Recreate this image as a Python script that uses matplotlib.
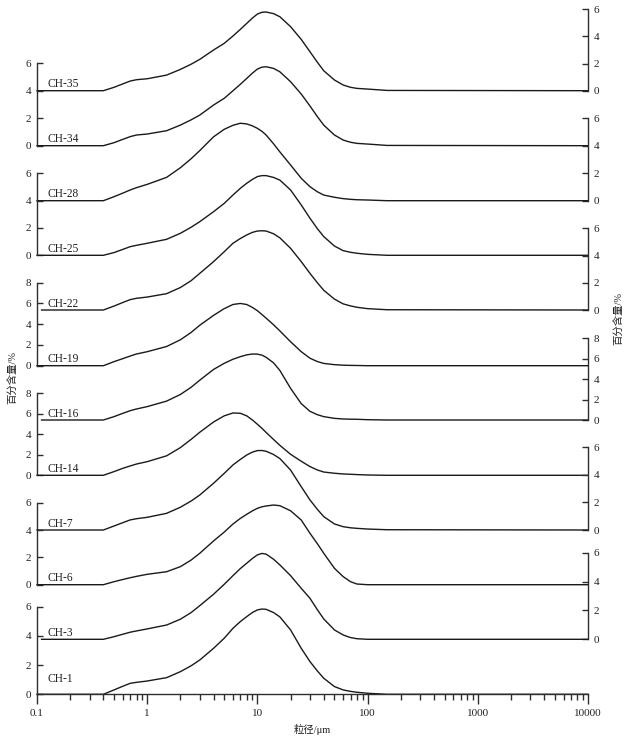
import matplotlib
matplotlib.use("Agg")
import matplotlib.pyplot as plt
from matplotlib.ticker import FixedLocator, FixedFormatter, NullFormatter

plt.rcParams['font.family'] = ['Liberation Serif', 'Noto Sans CJK SC']

# ---------------- data (percent content vs grain size) ----------------
grain_um = [0.4, 0.5, 0.6, 0.7, 0.8, 1, 1.5, 2, 2.5, 3, 4, 5, 6, 7, 8, 9, 10,
            11, 12, 14, 16, 20, 25, 30, 35, 40, 50, 60, 70, 80, 100, 150]

ch35 = [0, 0.25, 0.5, 0.71, 0.81, 0.88, 1.15, 1.57, 1.95, 2.31, 3.0, 3.49, 4.03, 4.52, 4.96, 5.35, 5.65,
        5.78, 5.8, 5.68, 5.45, 4.72, 3.78, 2.87, 2.1, 1.47, 0.79, 0.42, 0.25, 0.17, 0.12, 0.02]
ch34 = [0, 0.22, 0.46, 0.66, 0.78, 0.85, 1.09, 1.5, 1.88, 2.23, 2.96, 3.45, 4.0, 4.47, 4.9, 5.28, 5.58,
        5.72, 5.75, 5.63, 5.38, 4.66, 3.76, 2.89, 2.12, 1.5, 0.78, 0.41, 0.25, 0.17, 0.12, 0.02]
ch28 = [0, 0.29, 0.55, 0.78, 0.95, 1.19, 1.7, 2.4, 3.05, 3.65, 4.65, 5.2, 5.49, 5.64, 5.59, 5.45, 5.27,
        5.05, 4.78, 4.15, 3.55, 2.6, 1.63, 1.02, 0.65, 0.41, 0.25, 0.15, 0.1, 0.07, 0.05, 0]
ch25 = [0, 0.2, 0.43, 0.63, 0.73, 0.88, 1.17, 1.61, 2.05, 2.46, 3.19, 3.8, 4.41, 4.9, 5.27, 5.55, 5.76,
        5.83, 5.83, 5.7, 5.5, 4.78, 3.68, 2.71, 1.95, 1.37, 0.68, 0.34, 0.22, 0.15, 0.07, 0]
ch22 = [0, 0.29, 0.55, 0.76, 0.86, 0.95, 1.2, 1.65, 2.15, 2.69, 3.55, 4.28, 4.9, 5.25, 5.51, 5.7, 5.8,
        5.82, 5.8, 5.6, 5.3, 4.53, 3.55, 2.69, 2.0, 1.45, 0.8, 0.45, 0.3, 0.2, 0.1, 0.02]
ch19 = [0, 0.39, 0.68, 0.93, 1.13, 1.35, 1.85, 2.5, 3.2, 3.9, 4.85, 5.5, 5.9, 6.0, 5.9, 5.62, 5.3,
        4.93, 4.58, 3.95, 3.35, 2.31, 1.35, 0.72, 0.4, 0.22, 0.1, 0.05, 0.03, 0.02, 0, 0]
ch16 = [0, 0.33, 0.65, 0.91, 1.08, 1.31, 1.85, 2.5, 3.2, 3.9, 4.95, 5.55, 5.95, 6.2, 6.38, 6.46, 6.45,
        6.35, 6.14, 5.6, 4.85, 3.1, 1.6, 0.85, 0.52, 0.33, 0.16, 0.1, 0.08, 0.07, 0.03, 0]
ch14 = [0, 0.36, 0.68, 0.91, 1.1, 1.33, 1.9, 2.7, 3.5, 4.2, 5.2, 5.8, 6.08, 6.05, 5.8, 5.4, 4.98,
        4.58, 4.18, 3.5, 2.92, 2.05, 1.37, 0.85, 0.52, 0.32, 0.2, 0.13, 0.1, 0.07, 0.03, 0]
ch7 = [0, 0.29, 0.53, 0.73, 0.82, 0.92, 1.21, 1.65, 2.1, 2.54, 3.39, 4.11, 4.72, 5.12, 5.44, 5.65, 5.76,
       5.77, 5.71, 5.48, 5.18, 4.35, 3.14, 2.18, 1.5, 0.97, 0.44, 0.24, 0.16, 0.12, 0.07, 0.02]
ch6 = [0, 0.22, 0.38, 0.51, 0.61, 0.76, 0.95, 1.32, 1.8, 2.3, 3.2, 3.85, 4.44, 4.85, 5.15, 5.4, 5.59,
       5.7, 5.76, 5.83, 5.78, 5.41, 4.73, 3.76, 3.0, 2.3, 1.2, 0.59, 0.22, 0.05, 0, 0]
ch3 = [0, 0.18, 0.35, 0.49, 0.58, 0.72, 0.99, 1.39, 1.85, 2.33, 3.12, 3.81, 4.41, 4.9, 5.27, 5.6, 5.85,
       5.95, 5.9, 5.55, 5.15, 4.41, 3.53, 2.84, 2.05, 1.41, 0.65, 0.3, 0.12, 0.04, 0, 0]
ch1 = [0, 0.3, 0.55, 0.75, 0.82, 0.91, 1.14, 1.55, 1.95, 2.35, 3.15, 3.84, 4.52, 4.98, 5.32, 5.6, 5.78,
       5.84, 5.82, 5.6, 5.3, 4.41, 3.15, 2.24, 1.6, 1.1, 0.53, 0.3, 0.2, 0.14, 0.07, 0]

samples = ["CH-35", "CH-34", "CH-28", "CH-25", "CH-22", "CH-19",
           "CH-16", "CH-14", "CH-7", "CH-6", "CH-3", "CH-1"]
series = [ch35, ch34, ch28, ch25, ch22, ch19, ch16, ch14, ch7, ch6, ch3, ch1]
start_um = [0.1, 0.1, 0.1, 0.1, 0.11, 0.1, 0.11, 0.1, 0.1, 0.1, 0.11, 0.1]
end_um = 10000

x_ticks = [0.1, 1, 10, 100, 1000, 10000]
x_tick_labels = ["0.1", "1", "10", "100", "1000", "10000"]

# ---------------- layout (pixels of the 630x740 canvas) ----------------
FIG_W, FIG_H = 630, 740
X0, X1 = 37, 588
YB, YT = 694.3, 4
# side, pixel of 0, pixel of top tick, top tick value
layout = [("right", 90.7, 9.3, 6), ("left", 145.7, 63.3, 6),
          ("right", 200.7, 118.3, 6), ("left", 255.3, 173.3, 6),
          ("right", 310.0, 228.3, 6), ("left", 365.7, 282.7, 8),
          ("right", 420.0, 338.3, 8), ("left", 475.3, 393.3, 8),
          ("right", 530.0, 447.3, 6), ("left", 584.7, 502.7, 6),
          ("right", 639.3, 552.7, 6), ("left", 694.3, 606.7, 6)]

INK = "#1a1a1a"
AX_C = "#2e2e2e"

fig = plt.figure(figsize=(FIG_W / 100, FIG_H / 100), dpi=100)
fig.patch.set_facecolor("white")
rect = [X0 / FIG_W, 1 - YB / FIG_H, (X1 - X0) / FIG_W, (YB - YT) / FIG_H]

for i, (name, vals) in enumerate(zip(samples, series)):
    side, zero_px, top_px, top_val = layout[i]
    s = (zero_px - top_px) / top_val
    ax = fig.add_axes(rect, label=name)
    ax.patch.set_alpha(0)
    ax.set_xscale("log")
    ax.set_xlim(0.1, 10000)
    ax.set_ylim((zero_px - YB) / s, (zero_px - YT) / s)
    xs = [start_um[i]] + grain_um + [end_um]
    ys = [0] + vals + [0]
    ax.plot(xs, ys, color=INK, lw=1.0, solid_joinstyle="round", clip_on=False)

    for sp in ax.spines.values():
        sp.set_visible(False)
    ticks = list(range(0, top_val + 1, 2))
    if side == "left":
        sp = ax.spines["left"]
        ax.yaxis.set_ticks_position("left")
    else:
        sp = ax.spines["right"]
        ax.yaxis.set_ticks_position("right")
    sp.set_visible(True)
    sp.set_bounds(0, top_val)
    sp.set_color(AX_C)
    sp.set_linewidth(1.0)
    ax.set_yticks(ticks)
    ax.tick_params(axis="y", direction="in", length=4.3, width=1.0, color=AX_C,
                   labelsize=8, labelcolor="#222222",
                   pad=4.3 if side == "left" else 3.8)

    if name == "CH-1":
        bsp = ax.spines["bottom"]
        bsp.set_visible(True)
        bsp.set_color(AX_C)
        bsp.set_linewidth(1.0)
        ax.xaxis.set_major_locator(FixedLocator(x_ticks))
        ax.xaxis.set_major_formatter(FixedFormatter(x_tick_labels))
        minor = [m * 10.0 ** e for e in range(-1, 4) for m in range(2, 10)]
        ax.xaxis.set_minor_locator(FixedLocator(minor))
        ax.xaxis.set_minor_formatter(NullFormatter())
        ax.tick_params(axis="x", which="major", direction="out", length=7.5, width=1.0,
                       color=AX_C, labelsize=8, labelcolor="#222222", pad=3.3)
        ax.tick_params(axis="x", which="minor", direction="out", length=4.0, width=1.0,
                       color=AX_C)
        offset = 11.0
    else:
        ax.set_xticks([])
        ax.set_xticks([], minor=True)
        offset = 4.5
    ax.annotate(name, xy=((47.7 - X0) / (X1 - X0), 0),
                xycoords=("axes fraction", "data"),
                xytext=(0, offset), textcoords="offset points",
                ha="left", va="center", fontsize=8.3, color="#222222")

fig.text(312.5 / FIG_W, 1 - 729 / FIG_H, "粒径/μm", ha="center", va="center",
         fontsize=7.5, color="#222222")
fig.text(12 / FIG_W, 1 - 377 / FIG_H, "百分含量/%", ha="center", va="center",
         rotation=90, fontsize=7.5, color="#222222")
fig.text(618 / FIG_W, 1 - 318 / FIG_H, "百分含量/%", ha="center", va="center",
         rotation=90, fontsize=7.5, color="#222222")

fig.savefig("out.png", dpi=100, facecolor="white")
